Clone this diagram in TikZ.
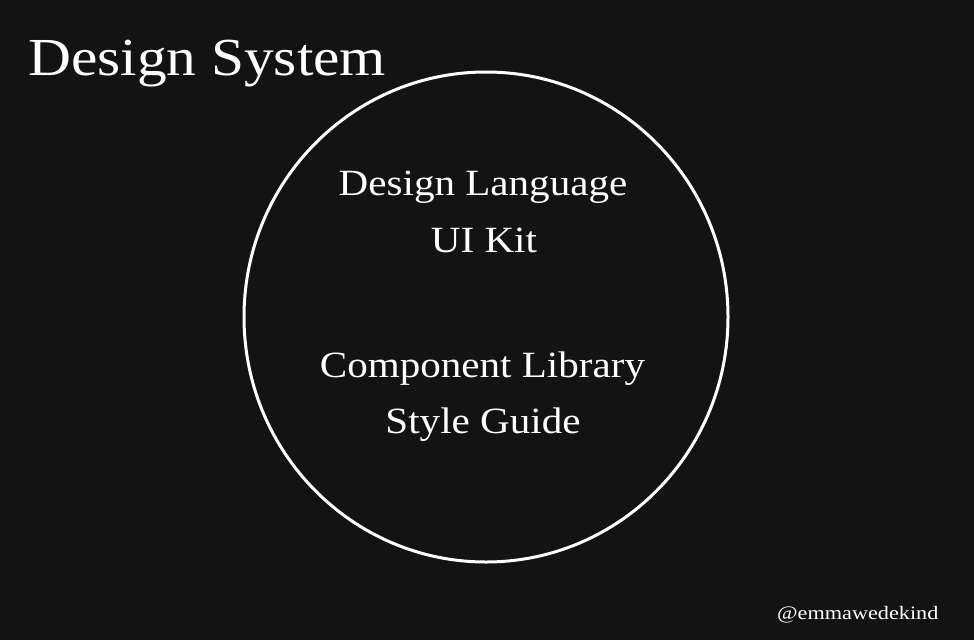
\documentclass[tikz,border=0pt]{standalone}
\usepackage{fontspec}
\setmainfont{Liberation Serif}[FakeStretch=1.11]
\newfontfamily\handlefont{Liberation Serif}[FakeStretch=1.17]
\usetikzlibrary{shapes.geometric}
\definecolor{bg}{HTML}{131313}
\begin{document}
\begin{tikzpicture}[x=1pt,y=-1pt,
  lbl/.style={text=white,inner sep=0pt,anchor=base},
  ring/.style={draw=white,line width=3pt}]
\fill[bg] (0,0) rectangle (974,640);
\useasboundingbox (0,0) rectangle (974,640);
\node[ring,ellipse,minimum width=484pt,minimum height=490pt,inner sep=0pt] (circ) at (486,317) {};
\node[lbl,anchor=base west,font=\fontsize{53.5}{60}\selectfont] (title) at (28,75) {Design System};
\node[lbl,font=\fontsize{37}{42}\selectfont] (dl) at (483,195) {Design Language};
\node[lbl,font=\fontsize{37}{42}\selectfont] (ui) at (484,252) {UI Kit};
\node[lbl,font=\fontsize{37}{42}\selectfont] (cl) at (482.5,377) {Component Library};
\node[lbl,font=\fontsize{37}{42}\selectfont] (sg) at (483,433) {Style Guide};
\node[lbl,anchor=base west,font=\handlefont\fontsize{19}{22}\selectfont] (handle) at (777,619) {@emmawedekind};
\end{tikzpicture}
\end{document}
